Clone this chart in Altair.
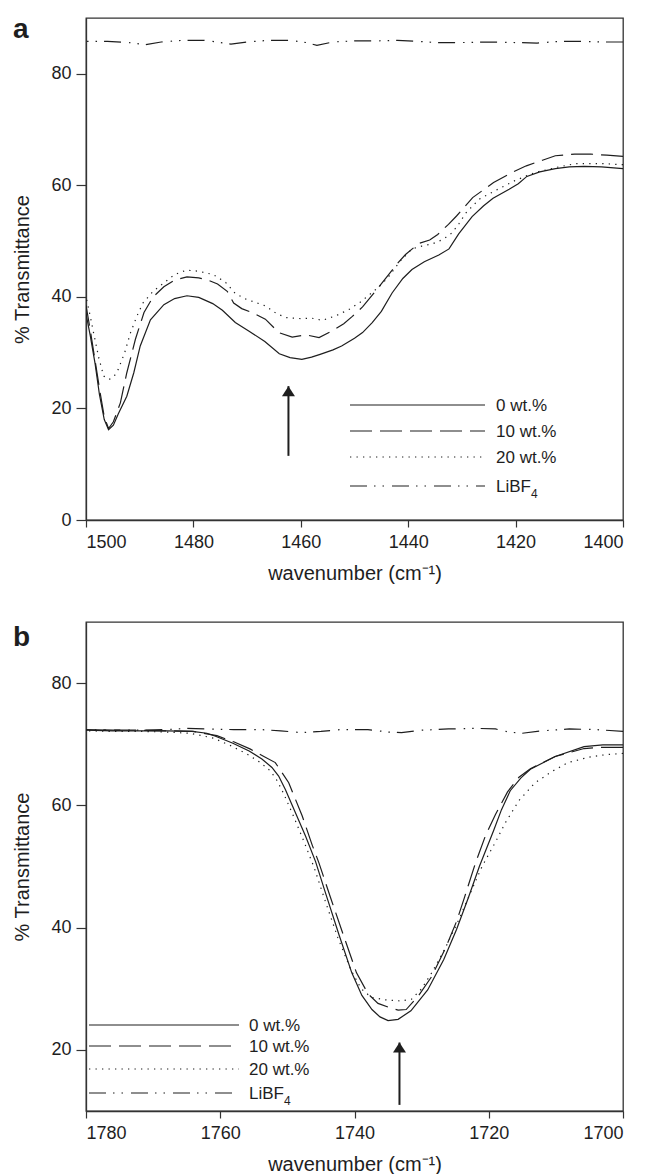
import altair as alt
import pandas as pd

# ---------------- data ----------------
# Panel a: 1500-1400 cm-1
a_wn_0 = [1500, 1499.2, 1498.3, 1497.5, 1496.6, 1495.8, 1494.9, 1494.0, 1492.4, 1491.1, 1489.9, 1488.0,
          1485.5, 1483.5, 1481.2, 1479.0, 1476.4, 1474.6, 1472.2, 1469.7, 1466.7, 1464.0, 1462.0, 1459.8,
          1458.0, 1456.4, 1454.0, 1452.4, 1450.0, 1448.5, 1446.7, 1445.0, 1443.0, 1441.0, 1439.3, 1437.0,
          1434.3, 1432.4, 1430.6, 1428.1, 1426.0, 1424.2, 1421.2, 1419.5, 1417.9, 1415.5, 1412.6, 1410.0,
          1407.2, 1404.0, 1400.0]
a_T_0 = [37.0, 33.0, 28.0, 22.5, 18.0, 16.2, 17.0, 19.0, 22.2, 26.4, 31.2, 35.9,
         38.6, 39.7, 40.2, 39.9, 38.8, 37.6, 35.4, 33.9, 32.0, 29.8, 29.1, 28.8,
         29.2, 29.7, 30.5, 31.2, 32.6, 33.6, 35.4, 37.4, 40.7, 43.3, 44.9, 46.3,
         47.5, 48.6, 51.3, 54.4, 56.3, 57.7, 59.3, 60.3, 61.6, 62.4, 63.0, 63.3,
         63.4, 63.3, 63.0]

a_wn_10 = [1500, 1499.2, 1498.3, 1497.4, 1496.6, 1495.8, 1494.9, 1493.6, 1492.4, 1490.8, 1489.2, 1487.5,
           1485.5, 1483.5, 1481.2, 1479.0, 1477.3, 1475.5, 1473.7, 1472.5, 1471.0, 1469.1, 1466.6, 1464.1,
           1461.6, 1459.1, 1456.6, 1454.2, 1452.0, 1450.4, 1448.5, 1446.7, 1444.2, 1442.0, 1440.5, 1438.0,
           1436.0, 1434.5, 1432.5, 1431.0, 1428.0, 1424.1, 1420.5, 1418.0, 1415.0, 1412.6, 1409.0, 1406.0,
           1403.0, 1400.0]
a_T_10 = [38.5, 34.0, 28.5, 23.0, 18.5, 16.4, 17.6, 21.0, 26.4, 32.4, 37.2, 40.0,
          41.8, 43.0, 43.6, 43.4, 43.0, 42.3, 41.0, 38.9, 37.9, 37.2, 36.0, 33.6,
          32.8, 33.2, 32.7, 33.9, 35.2, 36.5, 38.2, 40.3, 43.3, 46.0, 47.6, 49.6,
          50.2, 51.2, 53.0, 54.5, 57.8, 60.5, 62.4, 63.5, 64.5, 65.3, 65.6, 65.6,
          65.4, 65.2]

a_wn_20 = [1500, 1499.2, 1498.6, 1497.6, 1496.7, 1495.7, 1494.8, 1494.0, 1492.8, 1491.7, 1490.5, 1489.4,
           1487.5, 1485.5, 1483.5, 1481.3, 1479.0, 1476.3, 1474.0, 1472.2, 1470.2, 1468.4, 1466.6, 1464.5,
           1462.8, 1460.0, 1458.0, 1456.0, 1453.5, 1451.1, 1449.0, 1446.7, 1445.0, 1443.6, 1441.5, 1439.3,
           1437.5, 1435.5, 1433.5, 1431.8, 1430.5, 1429.3, 1426.8, 1423.1, 1420.0, 1416.4, 1412.0, 1408.8,
           1404.0, 1400.0]
a_T_20 = [40.0, 36.5, 33.6, 29.0, 25.8, 25.2, 25.7, 27.0, 30.0, 33.6, 36.6, 38.9,
          41.0, 42.5, 44.0, 44.8, 44.6, 44.0, 42.6, 40.6, 39.6, 39.0, 38.4, 37.0,
          36.3, 36.1, 36.2, 35.8, 36.6, 37.7, 39.0, 40.8, 42.2, 43.7, 46.4, 48.6,
          49.1, 49.5, 50.3, 51.5, 53.2, 55.0, 57.5, 59.4, 60.9, 62.3, 63.3, 63.9,
          63.9, 63.7]

a_wn_li = [1500, 1496, 1492, 1489, 1486, 1482, 1478, 1475, 1473, 1470, 1466, 1462, 1459, 1457,
           1454, 1450, 1446, 1442, 1438, 1435, 1430, 1425, 1420, 1416, 1412, 1408, 1404, 1400]
a_T_li = [85.8, 85.8, 85.6, 85.2, 85.7, 86.0, 86.0, 85.6, 85.3, 85.7, 86.0, 86.0, 85.6, 85.1,
          85.7, 85.9, 85.9, 86.0, 85.8, 85.6, 85.6, 85.7, 85.6, 85.5, 85.8, 85.8, 85.7, 85.7]

# Panel b: 1780-1700 cm-1
b_wn_0 = [1780, 1776, 1772, 1768, 1764.2, 1762.0, 1760.7, 1758.2, 1755.7, 1753.8, 1752.3, 1751.3,
          1750.3, 1748.8, 1747.3, 1745.8, 1744.3, 1742.3, 1740.4, 1738.9, 1737.4, 1736.2, 1735.0, 1733.5,
          1731.6, 1729.1, 1726.7, 1724.8, 1723.0, 1721.4, 1719.3, 1718.1, 1716.8, 1715.2, 1713.8, 1710.1,
          1705.8, 1703.0, 1700.0]
b_T_0 = [72.3, 72.2, 72.2, 72.2, 72.1, 71.8, 71.3, 70.2, 68.9, 67.6, 66.2, 64.8,
         62.6, 58.8, 55.0, 50.8, 45.6, 38.8, 32.6, 28.9, 26.6, 25.4, 24.8, 25.0,
         26.4, 29.8, 34.8, 39.7, 45.0, 50.0, 55.8, 59.3, 62.4, 64.5, 65.9, 68.0,
         69.6, 69.9, 69.9]

b_wn_10 = [1780, 1776, 1772, 1768, 1764.0, 1760.5, 1758.0, 1755.5, 1753.5, 1751.8, 1749.8, 1747.8,
           1746.3, 1745.3, 1743.6, 1741.6, 1739.7, 1738.0, 1736.5, 1735.0, 1733.5, 1732.3, 1730.5, 1728.5,
           1726.5, 1724.8, 1723.6, 1722.0, 1720.5, 1719.0, 1717.2, 1715.5, 1713.8, 1710.1, 1705.8, 1703.0,
           1700.0]
b_T_10 = [72.4, 72.3, 72.3, 72.2, 72.1, 71.4, 70.4, 69.2, 68.0, 67.0, 63.7, 58.3,
          53.5, 50.6, 45.0, 38.6, 32.6, 29.2, 27.6, 27.0, 26.5, 26.6, 28.8, 32.0,
          36.5, 41.0, 45.0, 50.5, 55.0, 58.5, 62.2, 64.6, 66.0, 68.0, 69.3, 69.5,
          69.5]

b_wn_20 = [1780, 1776, 1772, 1768, 1764.5, 1761.0, 1758.5, 1756.0, 1754.0, 1752.5, 1751.5, 1750.5,
           1749.0, 1747.5, 1746.0, 1744.5, 1742.5, 1740.5, 1739.0, 1737.5, 1735.5, 1733.1, 1731.5, 1730.0,
           1728.5, 1726.5, 1724.5, 1722.8, 1721.0, 1719.0, 1717.5, 1715.5, 1713.1, 1710.5, 1708.2, 1705.0,
           1702.5, 1700.0]
b_T_20 = [72.2, 72.1, 72.1, 72.0, 71.8, 71.0, 69.8, 68.4, 67.0, 65.6, 64.0, 61.8,
          58.0, 54.0, 49.8, 44.8, 38.4, 33.0, 30.0, 28.6, 28.2, 28.0, 28.3, 30.0,
          32.6, 36.6, 41.2, 45.5, 50.0, 54.0, 57.2, 60.8, 63.7, 65.6, 67.0, 67.9,
          68.3, 68.5]

b_wn_li = [1780, 1776, 1772, 1768, 1765, 1762, 1758, 1754, 1751, 1748, 1745, 1742, 1738, 1735,
           1733, 1730, 1726, 1722, 1719, 1717, 1715, 1712, 1708, 1704, 1700]
b_T_li = [72.4, 72.3, 72.3, 72.4, 72.6, 72.5, 72.4, 72.4, 72.2, 71.9, 72.1, 72.4, 72.4, 72.0,
          71.9, 72.3, 72.5, 72.6, 72.5, 72.0, 71.8, 72.2, 72.5, 72.4, 72.1]

series_names = ["0 wt.%", "10 wt.%", "20 wt.%", "LiBF"]

# arrows (wavenumber, bottom, tip)
a_arrow = [1462.3, 11.5, 24.0]
b_arrow = [1733.3, 11.0, 21.2]

a_xticks = [1500, 1480, 1460, 1440, 1420, 1400]
b_xticks = [1780, 1760, 1740, 1720, 1700]
a_yticks = [0, 20, 40, 60, 80]
b_yticks = [20, 40, 60, 80]

# ---------------- styling ----------------
INK = "#1e1e1e"
FONT = "Liberation Sans, Arial, Helvetica, sans-serif"
DASHES = [None, [22, 8], [1.3, 5.2], [17, 7, 1.5, 7, 1.5, 8]]
W = 537
HA, HB = 502, 489
XTITLE = "wavenumber (cm\u207b\u00b9)"
ARROW_PATH = "M0,-1L1.3,1L-1.3,1Z"


def enc(xdom, ydom, xticks, yticks):
    x = alt.X("wn:Q",
              scale=alt.Scale(domain=xdom, reverse=True, nice=False, zero=False),
              axis=alt.Axis(values=xticks, format="d", title=XTITLE, tickSize=7,
                            labelPadding=6, titlePadding=12, grid=False))
    y = alt.Y("T:Q",
              scale=alt.Scale(domain=ydom, nice=False, zero=False),
              axis=alt.Axis(values=yticks, format="d", title="% Transmittance", tickSize=10,
                            labelPadding=5, titlePadding=18, grid=False))
    return x, y


def panel(wns, Ts, arrow, xdom, ydom, xticks, yticks, leg, letter, letter_y, h):
    x, y = enc(xdom, ydom, xticks, yticks)
    layers = []
    for wn, T, dash in zip(wns, Ts, DASHES):
        df = pd.DataFrame({"wn": wn, "T": T})
        kw = dict(color=INK, strokeWidth=1.2, clip=True)
        if dash is not None:
            kw["strokeDash"] = dash
        layers.append(alt.Chart(df).mark_line(**kw).encode(x=x, y=y, order="wn:Q"))

    # arrow
    ar = pd.DataFrame({"wn": [arrow[0]], "T": [arrow[1]], "T2": [arrow[2]]})
    layers.append(alt.Chart(ar).mark_rule(color=INK, strokeWidth=2).encode(
        x=x, y=y, y2=alt.Y2("T2:Q")))
    layers.append(alt.Chart(ar).mark_point(shape=ARROW_PATH, size=100, filled=True, opacity=1,
                                           color=INK, yOffset=5).encode(x=x, y=alt.Y("T2:Q")))

    # legend (annotation placed in pixel space)
    lx0, lx1, tx, rows = leg
    for name, dash, ry in zip(series_names, DASHES, rows):
        kw = dict(color=INK, strokeWidth=1.2)
        if dash is not None:
            kw["strokeDash"] = dash
        layers.append(alt.Chart(pd.DataFrame({"n": [name]})).mark_rule(**kw).encode(
            x=alt.value(lx0), x2=alt.value(lx1), y=alt.value(ry)))
        layers.append(alt.Chart(pd.DataFrame({"n": [name]})).mark_text(
            align="left", baseline="middle", font=FONT, fontSize=17, color=INK).encode(
            x=alt.value(tx), y=alt.value(ry + 1), text="n:N"))
    layers.append(alt.Chart(pd.DataFrame({"n": ["4"]})).mark_text(
        align="left", baseline="middle", font=FONT, fontSize=12, color=INK, dx=35, dy=7).encode(
        x=alt.value(tx), y=alt.value(rows[3] + 1), text="n:N"))

    # panel letter
    layers.append(alt.Chart(pd.DataFrame({"n": [letter]})).mark_text(
        align="left", baseline="alphabetic", font=FONT, fontSize=28, fontWeight="bold",
        color=INK).encode(x=alt.value(-73), y=alt.value(letter_y), text="n:N"))

    return alt.layer(*layers).properties(width=W, height=h)


pa = panel([a_wn_0, a_wn_10, a_wn_20, a_wn_li], [a_T_0, a_T_10, a_T_20, a_T_li], a_arrow,
           [1400, 1500], [0, 90], a_xticks, a_yticks,
           (264, 399, 410, [387, 413, 439, 468]), "a", 20, HA)
pb = panel([b_wn_0, b_wn_10, b_wn_20, b_wn_li], [b_T_0, b_T_10, b_T_20, b_T_li], b_arrow,
           [1700, 1780], [10, 90], b_xticks, b_yticks,
           (3, 153, 163, [403, 424, 447, 471]), "b", 24, HB)

chart = alt.vconcat(pa, pb, spacing=102, bounds="flush").properties(
    padding={"left": 4, "top": 7, "right": 5, "bottom": 5}
).configure_view(
    stroke="#333333", strokeWidth=1.3
).configure_axis(
    domainColor="#333333", tickColor="#333333", labelColor=INK, titleColor=INK,
    labelFont=FONT, titleFont=FONT, labelFontSize=18, titleFontSize=20,
    titleFontWeight="normal", domainWidth=1.3, tickWidth=1.2
)

chart.save("out.html", embed_options={"renderer": "svg", "actions": False})
